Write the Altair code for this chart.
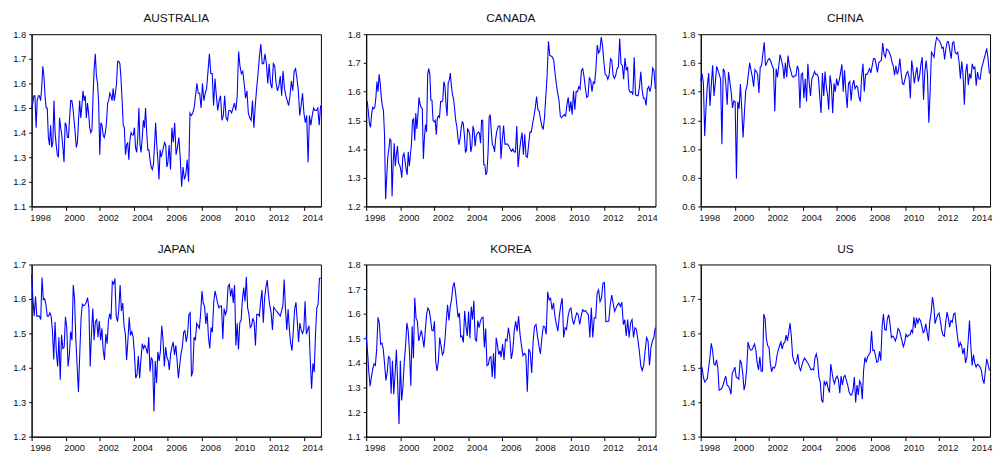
import altair as alt
import numpy as np
import pandas as pd

# ---- data (monthly-ish samples, two time segments per country) ----
AUS_A = [1.50, 1.52, 1.55, 1.55, 1.42, 1.53, 1.55, 1.55, 1.53, 1.58, 1.67, 1.63, 1.55, 1.50, 1.50, 1.38,
         1.35, 1.43, 1.34, 1.36, 1.53, 1.40, 1.35, 1.31, 1.30, 1.46, 1.42, 1.39, 1.34, 1.28, 1.44, 1.43,
         1.38, 1.38, 1.46, 1.53, 1.53, 1.50, 1.45, 1.40, 1.34, 1.36, 1.45, 1.53, 1.46, 1.51, 1.57, 1.53,
         1.55, 1.46, 1.52, 1.48, 1.42, 1.40, 1.41, 1.55, 1.66, 1.72, 1.63, 1.60, 1.52, 1.31, 1.44, 1.43,
         1.39, 1.38, 1.40, 1.44, 1.52, 1.53, 1.56, 1.55, 1.53, 1.58, 1.53, 1.56, 1.60, 1.69, 1.69, 1.68,
         1.62, 1.53, 1.43, 1.42, 1.31, 1.35, 1.36, 1.29, 1.37, 1.40, 1.39, 1.39, 1.42, 1.34, 1.32, 1.38,
         1.50, 1.35, 1.32, 1.38, 1.45, 1.42, 1.50, 1.40, 1.33, 1.33, 1.29, 1.26, 1.25, 1.27, 1.35, 1.44,
         1.35, 1.29, 1.21, 1.33, 1.30, 1.32, 1.34, 1.36, 1.35, 1.26, 1.28]
AUS_B = [1.35, 1.25, 1.42, 1.36, 1.44, 1.31, 1.34, 1.38, 1.30, 1.18, 1.26, 1.21, 1.23, 1.29, 1.20,
         1.48, 1.47, 1.48, 1.50, 1.55, 1.60, 1.56, 1.56, 1.50, 1.60, 1.53, 1.56, 1.58, 1.65, 1.72, 1.64,
         1.64, 1.51, 1.62, 1.55, 1.49, 1.53, 1.55, 1.45, 1.47, 1.55, 1.46, 1.45, 1.49, 1.49, 1.48, 1.50,
         1.52, 1.49, 1.55, 1.73, 1.67, 1.64, 1.65, 1.60, 1.54, 1.57, 1.48, 1.46, 1.45, 1.53, 1.42, 1.51,
         1.58, 1.64, 1.71, 1.76, 1.68, 1.68, 1.72, 1.68, 1.60, 1.68, 1.60, 1.58, 1.68, 1.67, 1.60, 1.57,
         1.59, 1.63, 1.55, 1.65, 1.58, 1.55, 1.53, 1.51, 1.55, 1.61, 1.57, 1.65, 1.66, 1.62, 1.57, 1.47,
         1.51, 1.56, 1.48, 1.44, 1.47, 1.28, 1.47, 1.43, 1.47, 1.50, 1.49, 1.49, 1.50, 1.43, 1.51]

CAN_A = [1.565, 1.565, 1.53, 1.49, 1.475, 1.52, 1.545, 1.54, 1.545, 1.58, 1.635, 1.60, 1.66, 1.63, 1.58,
         1.55, 1.535, 1.45, 1.225, 1.30, 1.37, 1.40, 1.435, 1.43, 1.235, 1.35, 1.42, 1.34, 1.38, 1.41,
         1.35, 1.345, 1.33, 1.30, 1.375, 1.385, 1.36, 1.33, 1.31, 1.39, 1.34, 1.38, 1.42, 1.50, 1.505,
         1.43, 1.525, 1.47, 1.52, 1.58, 1.555, 1.545, 1.54, 1.365, 1.44, 1.485, 1.46, 1.66, 1.68, 1.66,
         1.57, 1.57, 1.50, 1.495, 1.50, 1.45, 1.51, 1.515, 1.51, 1.565, 1.565, 1.57, 1.635, 1.62, 1.555,
         1.515, 1.63, 1.64, 1.665, 1.62, 1.59, 1.575, 1.54, 1.50, 1.48, 1.44, 1.415, 1.435, 1.47, 1.495,
         1.49, 1.45, 1.39, 1.395, 1.47, 1.465, 1.45, 1.39, 1.41, 1.48, 1.465, 1.41, 1.445, 1.455, 1.46,
         1.455, 1.42, 1.50, 1.50, 1.345, 1.345, 1.31, 1.32, 1.39, 1.51, 1.52, 1.46, 1.415, 1.41, 1.39,
         1.435, 1.46, 1.475, 1.48, 1.48]
CAN_B = [1.366, 1.43, 1.482, 1.417, 1.417, 1.417, 1.41, 1.40, 1.392, 1.40, 1.39, 1.39, 1.48, 1.337,
         1.389, 1.429, 1.457, 1.38, 1.451, 1.374, 1.371, 1.417, 1.46, 1.459, 1.488, 1.514, 1.543, 1.583,
         1.537, 1.531, 1.503, 1.48, 1.468, 1.509, 1.583, 1.657, 1.775, 1.726, 1.724, 1.72, 1.709, 1.663,
         1.625, 1.594, 1.569, 1.514, 1.509, 1.515, 1.52, 1.515, 1.554, 1.58, 1.531, 1.566, 1.52, 1.602,
         1.537, 1.60, 1.60, 1.617, 1.609, 1.674, 1.68, 1.651, 1.611, 1.58, 1.583, 1.648, 1.64, 1.60,
         1.634, 1.629, 1.68, 1.762, 1.734, 1.743, 1.79, 1.76, 1.703, 1.66, 1.657, 1.643, 1.657, 1.714,
         1.709, 1.657, 1.646, 1.657, 1.68, 1.686, 1.785, 1.697, 1.691, 1.643, 1.717, 1.674, 1.686, 1.606,
         1.598, 1.60, 1.589, 1.72, 1.589, 1.586, 1.586, 1.617, 1.669, 1.606, 1.577, 1.577, 1.552, 1.609,
         1.617, 1.60, 1.623, 1.682, 1.674, 1.609]

CHN_A = [1.475, 1.526, 1.46, 1.09, 1.297, 1.44, 1.53, 1.30, 1.45, 1.583, 1.37, 1.46, 1.576, 1.55, 1.52,
         1.487, 1.034, 1.56, 1.54, 1.45, 1.309, 1.537, 1.47, 1.40, 1.286, 1.336, 1.33, 0.794, 1.33, 1.28,
         1.452, 1.28, 1.08, 1.25, 1.405, 1.44, 1.52, 1.60, 1.55, 1.503, 1.434, 1.553, 1.54, 1.52, 1.39,
         1.571, 1.58, 1.667, 1.743, 1.58, 1.60, 1.624, 1.63, 1.61, 1.58, 1.56, 1.263, 1.56, 1.50, 1.58,
         1.658, 1.62, 1.58, 1.49, 1.60, 1.50, 1.651, 1.58, 1.55, 1.51, 1.50, 1.51, 1.51, 1.58, 1.55,
         1.286, 1.52, 1.53, 1.354, 1.49, 1.331, 1.594, 1.462, 1.37, 1.49, 1.51, 1.54, 1.52, 1.52, 1.50,
         1.36, 1.251, 1.53, 1.37, 1.54, 1.43, 1.37]
CHN_B = [1.274, 1.514, 1.45, 1.25, 1.457, 1.40, 1.49, 1.44, 1.48, 1.53, 1.59, 1.40, 1.549, 1.40, 1.286,
         1.457, 1.47, 1.336, 1.44, 1.48, 1.42, 1.44, 1.43, 1.359, 1.33, 1.503, 1.594, 1.40, 1.52, 1.52,
         1.537, 1.56, 1.53, 1.58, 1.629, 1.63, 1.59, 1.533, 1.60, 1.61, 1.62, 1.738, 1.66, 1.64, 1.697,
         1.69, 1.674, 1.65, 1.606, 1.58, 1.514, 1.58, 1.52, 1.55, 1.63, 1.53, 1.457, 1.45, 1.49, 1.526,
         1.54, 1.50, 1.354, 1.617, 1.55, 1.457, 1.52, 1.571, 1.47, 1.51, 1.59, 1.64, 1.343, 1.54, 1.617,
         1.52, 1.183, 1.40, 1.674, 1.66, 1.64, 1.731, 1.777, 1.765, 1.754, 1.738, 1.702, 1.709, 1.624,
         1.702, 1.747, 1.747, 1.686, 1.629, 1.738, 1.747, 1.674, 1.663, 1.674, 1.606, 1.49, 1.61, 1.52,
         1.309, 1.533, 1.594, 1.446, 1.526, 1.49, 1.594, 1.56, 1.571, 1.441, 1.537, 1.49, 1.486, 1.56,
         1.594, 1.629, 1.663, 1.702, 1.63, 1.526]

JPN_A = [1.671, 1.60, 1.55, 1.607, 1.55, 1.55, 1.55, 1.54, 1.662, 1.598, 1.60, 1.584, 1.55, 1.55, 1.56,
         1.55, 1.508, 1.424, 1.533, 1.446, 1.404, 1.489, 1.365, 1.496, 1.456, 1.46, 1.548, 1.517, 1.404,
         1.437, 1.505, 1.48, 1.64, 1.598, 1.48, 1.404, 1.33, 1.441, 1.544, 1.585, 1.58, 1.583, 1.59,
         1.604, 1.574, 1.404, 1.50, 1.572, 1.48, 1.534, 1.54, 1.489, 1.536, 1.48, 1.515, 1.451, 1.423,
         1.498, 1.47, 1.536, 1.557, 1.54, 1.65, 1.643, 1.659, 1.55, 1.534, 1.569, 1.64, 1.565, 1.588,
         1.522, 1.50, 1.423, 1.48, 1.547, 1.494, 1.505, 1.489, 1.441, 1.37, 1.38, 1.434, 1.37, 1.423,
         1.47, 1.456, 1.465, 1.456, 1.441, 1.489, 1.389, 1.43, 1.42, 1.273, 1.42, 1.356, 1.446, 1.42,
         1.45, 1.522, 1.48, 1.404, 1.46, 1.43, 1.42]
JPN_B = [1.394, 1.441, 1.46, 1.475, 1.437, 1.465, 1.42, 1.37, 1.408, 1.441, 1.46, 1.503, 1.508, 1.475,
         1.498, 1.555, 1.56, 1.375, 1.39, 1.489, 1.48, 1.529, 1.522, 1.515, 1.555, 1.623, 1.588, 1.579,
         1.527, 1.56, 1.489, 1.456, 1.517, 1.503, 1.588, 1.623, 1.607, 1.588, 1.574, 1.579, 1.579, 1.484,
         1.572, 1.555, 1.566, 1.636, 1.642, 1.607, 1.631, 1.588, 1.64, 1.465, 1.529, 1.453, 1.531, 1.538,
         1.598, 1.633, 1.593, 1.664, 1.574, 1.555, 1.517, 1.522, 1.544, 1.531, 1.465, 1.555, 1.555, 1.55,
         1.593, 1.626, 1.531, 1.602, 1.633, 1.655, 1.61, 1.58, 1.56, 1.51, 1.576, 1.57, 1.565, 1.56,
         1.555, 1.55, 1.565, 1.58, 1.656, 1.57, 1.51, 1.57, 1.51, 1.47, 1.45, 1.51, 1.57, 1.59, 1.536,
         1.475, 1.53, 1.51, 1.50, 1.51, 1.593, 1.498, 1.51, 1.522, 1.42, 1.339, 1.413, 1.387, 1.50,
         1.574, 1.584, 1.66, 1.66]

KOR_A = [1.509, 1.449, 1.363, 1.305, 1.343, 1.376, 1.396, 1.39, 1.456, 1.585, 1.563, 1.476, 1.48, 1.456,
         1.396, 1.329, 1.36, 1.425, 1.42, 1.275, 1.409, 1.273, 1.356, 1.453, 1.316, 1.152, 1.409, 1.247,
         1.303, 1.403, 1.469, 1.563, 1.529, 1.443, 1.307, 1.549, 1.419, 1.665, 1.58, 1.57, 1.489, 1.51,
         1.532, 1.50, 1.463, 1.53, 1.596, 1.623, 1.613, 1.58, 1.533, 1.53, 1.569, 1.403, 1.367, 1.41,
         1.503, 1.47, 1.433, 1.443, 1.496, 1.572, 1.636, 1.572, 1.625, 1.656, 1.709, 1.727, 1.689, 1.636,
         1.585, 1.603, 1.505, 1.509, 1.483, 1.612, 1.55, 1.509, 1.609, 1.50, 1.629, 1.576, 1.652, 1.496,
         1.489, 1.572, 1.543, 1.57, 1.583, 1.585, 1.463, 1.54, 1.389, 1.393, 1.42, 1.425, 1.343, 1.439,
         1.336, 1.503, 1.47, 1.433, 1.45]
KOR_B = [1.423, 1.476, 1.412, 1.496, 1.489, 1.543, 1.503, 1.416, 1.449, 1.529, 1.569, 1.529, 1.589,
         1.516, 1.469, 1.429, 1.439, 1.433, 1.283, 1.456, 1.443, 1.359, 1.489, 1.549, 1.556, 1.509, 1.469,
         1.436, 1.503, 1.549, 1.547, 1.516, 1.689, 1.656, 1.663, 1.616, 1.643, 1.589, 1.556, 1.529, 1.589,
         1.636, 1.663, 1.503, 1.543, 1.536, 1.589, 1.616, 1.623, 1.576, 1.556, 1.583, 1.603, 1.596, 1.556,
         1.589, 1.616, 1.609, 1.613, 1.603, 1.596, 1.503, 1.625, 1.503, 1.583, 1.583, 1.683, 1.696, 1.649,
         1.663, 1.723, 1.727, 1.567, 1.569, 1.569, 1.636, 1.676, 1.643, 1.609, 1.623, 1.636, 1.643, 1.629,
         1.647, 1.556, 1.576, 1.509, 1.576, 1.503, 1.563, 1.576, 1.503, 1.543, 1.536, 1.496, 1.449, 1.389,
         1.369, 1.389, 1.449, 1.503, 1.489, 1.389, 1.463, 1.489, 1.503, 1.543]

USA_A = [1.507, 1.50, 1.473, 1.459, 1.463, 1.469, 1.50, 1.53, 1.571, 1.551, 1.511, 1.508, 1.523, 1.50,
         1.435, 1.437, 1.44, 1.45, 1.464, 1.476, 1.45, 1.447, 1.44, 1.423, 1.485, 1.492, 1.502, 1.473,
         1.471, 1.467, 1.523, 1.513, 1.483, 1.435, 1.454, 1.497, 1.575, 1.559, 1.551, 1.552, 1.561, 1.569,
         1.55, 1.513, 1.494, 1.532, 1.49, 1.49, 1.656, 1.643, 1.583, 1.564, 1.559, 1.513, 1.488, 1.502,
         1.499, 1.507, 1.535, 1.551, 1.564, 1.575, 1.554, 1.571, 1.573, 1.595, 1.578, 1.602, 1.63, 1.59,
         1.532, 1.52, 1.511, 1.52, 1.54, 1.502, 1.492, 1.507, 1.52, 1.528, 1.523, 1.516, 1.511, 1.502,
         1.494, 1.497, 1.494, 1.53, 1.54, 1.521, 1.473, 1.459, 1.407, 1.399, 1.462, 1.45, 1.459, 1.44,
         1.428, 1.511]
USA_B = [1.467, 1.454, 1.469, 1.476, 1.464, 1.426, 1.476, 1.45, 1.473, 1.478, 1.464, 1.45, 1.43, 1.421,
         1.421, 1.435, 1.473, 1.399, 1.45, 1.421, 1.462, 1.454, 1.409, 1.492, 1.53, 1.516, 1.532, 1.538,
         1.545, 1.607, 1.55, 1.551, 1.535, 1.516, 1.519, 1.548, 1.521, 1.621, 1.656, 1.611, 1.609, 1.643,
         1.654, 1.626, 1.588, 1.592, 1.588, 1.578, 1.59, 1.614, 1.609, 1.595, 1.578, 1.561, 1.573, 1.597,
         1.59, 1.595, 1.595, 1.609, 1.602, 1.647, 1.616, 1.645, 1.63, 1.643, 1.637, 1.621, 1.602, 1.607,
         1.628, 1.602, 1.578, 1.635, 1.659, 1.705, 1.681, 1.628, 1.643, 1.654, 1.659, 1.637, 1.609, 1.595,
         1.592, 1.63, 1.662, 1.645, 1.618, 1.637, 1.633, 1.656, 1.659, 1.621, 1.588, 1.559, 1.573, 1.564,
         1.54, 1.557, 1.514, 1.53, 1.578, 1.637, 1.564, 1.507, 1.538, 1.513, 1.502, 1.51, 1.507, 1.502,
         1.492, 1.466, 1.454, 1.492, 1.526, 1.511, 1.492]

# time span (in years) covered by each segment of samples
SPANS = {
    "AUSTRALIA": ((1998.0, 2006.01), (2006.08, 2014.98)),
    "CANADA": ((1998.0, 2005.86), (2005.92, 2014.99)),
    "CHINA": ((1998.0, 2005.46), (2005.52, 2014.96)),
    "JAPAN": ((1998.0, 2006.03), (2006.09, 2014.99)),
    "KOREA": ((1998.0, 2005.87), (2005.93, 2014.99)),
    "US": ((1998.0, 2005.64), (2005.78, 2014.96)),
}
SERIES = {
    "AUSTRALIA": (AUS_A, AUS_B), "CANADA": (CAN_A, CAN_B), "CHINA": (CHN_A, CHN_B),
    "JAPAN": (JPN_A, JPN_B), "KOREA": (KOR_A, KOR_B), "US": (USA_A, USA_B),
}
Y_DOMAINS = {
    "AUSTRALIA": [1.1, 1.8], "CANADA": [1.2, 1.8], "CHINA": [0.6, 1.8],
    "JAPAN": [1.2, 1.7], "KOREA": [1.1, 1.8], "US": [1.3, 1.8],
}
Y_STEP = {"AUSTRALIA": 0.1, "CANADA": 0.1, "CHINA": 0.2, "JAPAN": 0.1, "KOREA": 0.1, "US": 0.1}
X_TICKS = [1998, 2000, 2002, 2004, 2006, 2008, 2010, 2012, 2014]

FONT = "Liberation Sans"


def frame(name):
    (a, b) = SERIES[name]
    (sa, sb) = SPANS[name]
    t = np.concatenate([np.linspace(sa[0], sa[1], len(a)), np.linspace(sb[0], sb[1], len(b))])
    return pd.DataFrame({"t": t, "v": list(a) + list(b)})


def panel(name):
    lo, hi = Y_DOMAINS[name]
    step = Y_STEP[name]
    n = int(round((hi - lo) / step))
    ticks = [round(lo + i * step, 2) for i in range(n + 1)]
    return alt.Chart(frame(name), title=alt.Title(name)).mark_line(
        color="#0000ff", strokeWidth=1.1
    ).encode(
        x=alt.X("t:Q", scale=alt.Scale(domain=[1998, 2015], nice=False, zero=False),
                axis=alt.Axis(values=X_TICKS, format="d", labelOffset=8.6, labelFlush=False,
                              title=None, tickSize=4, grid=False, labelPadding=2)),
        y=alt.Y("v:Q", scale=alt.Scale(domain=[lo, hi], nice=False, zero=False),
                axis=alt.Axis(values=ticks, format=".1f", title=None, tickSize=3,
                              grid=False, labelPadding=3)),
    ).properties(width=294, height=175)


row1 = alt.hconcat(panel("AUSTRALIA"), panel("CANADA"), panel("CHINA"), spacing=23)
row2 = alt.hconcat(panel("JAPAN"), panel("KOREA"), panel("US"), spacing=23)

chart = alt.vconcat(row1, row2, spacing=20).properties(
    padding={"left": 4, "top": 0, "right": 0, "bottom": 0}
).configure_view(
    stroke="black", strokeWidth=1
).configure_axis(
    domainColor="black", tickColor="black", labelColor="#111111", labelFont=FONT,
    labelFontSize=9.5, domainWidth=1, tickWidth=1
).configure_title(
    font=FONT, fontSize=12, fontWeight="normal", color="#111111", anchor="middle", offset=4
)

chart.save("out.html", embed_options={"renderer": "svg", "actions": False})
